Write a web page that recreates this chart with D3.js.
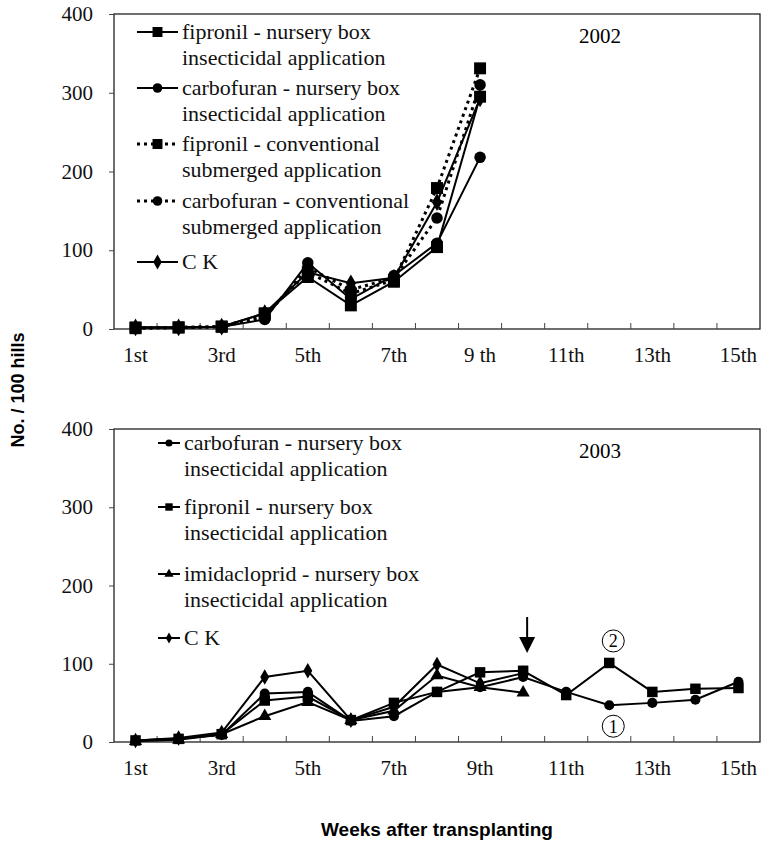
<!DOCTYPE html>
<html lang="en">
<head>
    <meta charset="UTF-8">
    <title>Weeks after transplanting</title>
    <script src="https://d3js.org/d3.v7.min.js"></script>
    <style>
        body { margin: 0; background: white; }
        text { font-family: "Liberation Serif", "Times New Roman", serif; }
    </style>
</head>
<body>
    <div id="chart"></div>

    <script>
        // categories (weeks after transplanting)
        const weeks = d3.range(1, 16);
        const weekLabels2002 = ["1st", "3rd", "5th", "7th", "9 th", "11th", "13th", "15th"];
        const weekLabels2003 = ["1st", "3rd", "5th", "7th", "9th", "11th", "13th", "15th"];
        const yTicks = [0, 100, 200, 300, 400];

        // 2002 series, weeks 1..9
        const fipNursery02 = [2, 2, 3, 20, 66, 30, 60, 104, 295];
        const carbNursery02 = [2, 2, 3, 12, 84, 38, 68, 109, 218];
        const fipConv02 = [1, 2, 3, 18, 72, 45, 62, 179, 331];
        const carbConv02 = [1, 2, 3, 15, 78, 50, 65, 141, 310];
        const ck02 = [2, 2, 3, 20, 72, 58, 65, 161, 293];

        // 2003 series
        const carbNursery03 = [2, 4, 9, 62, 64, 27, 33, 64, 70, 83, 64, 47, 50, 54, 77];
        const fipNursery03 = [2, 4, 10, 53, 58, 28, 50, 64, 89, 91, 60, 101, 64, 68, 69];
        const imidNursery03 = [1, 3, 10, 33, 51, 28, 40, 85, 70, 63];
        const ck03 = [2, 5, 12, 83, 91, 28, 45, 99, 75, 88];

        const W = 762, H = 847;
        const svg = d3.select("#chart").append("svg")
            .attr("width", W)
            .attr("height", H);

        const x = d3.scaleBand().domain(weeks).range([114, 760]).padding(0);
        const cx = w => x(w) + x.bandwidth() / 2;

        const panels = [
            {
                year: "2002", top: 14, bottom: 329, labels: weekLabels2002, msize: 1.3,
                legendX: 137, legendY: [32, 88, 144, 201, 262],
                series: [
                    { name: ["fipronil - nursery box", "insecticidal application"], values: fipNursery02, symbol: "square", dash: null },
                    { name: ["carbofuran - nursery box", "insecticidal application"], values: carbNursery02, symbol: "circle", dash: null },
                    { name: ["fipronil - conventional", "submerged application"], values: fipConv02, symbol: "square", dash: "3,4" },
                    { name: ["carbofuran - conventional", "submerged application"], values: carbConv02, symbol: "circle", dash: "3,4" },
                    { name: ["C K"], values: ck02, symbol: "diamond", dash: null }
                ]
            },
            {
                year: "2003", top: 429, bottom: 742, labels: weekLabels2003, msize: 1,
                legendX: 158, legendY: [443, 507, 574, 638],
                series: [
                    { name: ["carbofuran - nursery box", "insecticidal application"], values: carbNursery03, symbol: "circle", dash: null },
                    { name: ["fipronil - nursery box", "insecticidal application"], values: fipNursery03, symbol: "square", dash: null },
                    { name: ["imidacloprid - nursery box", "insecticidal application"], values: imidNursery03, symbol: "triangle", dash: null },
                    { name: ["C K"], values: ck03, symbol: "diamond", dash: null }
                ]
            }
        ];

        const symbolSize = { square: 110, circle: 80, diamond: 70, triangle: 75 };
        const symbolType = { square: d3.symbolSquare, circle: d3.symbolCircle, diamond: d3.symbolDiamond, triangle: d3.symbolTriangle };

        panels.forEach(p => {
            const y = d3.scaleLinear().domain([0, 400]).range([p.bottom, p.top]);
            p.y = y;
            const g = svg.append("g");

            // plot box
            g.append("rect")
                .attr("x", 114).attr("y", p.top)
                .attr("width", 760 - 114).attr("height", p.bottom - p.top)
                .attr("fill", "none").attr("stroke", "#222").attr("stroke-width", 1.3);

            // y axis
            const yAxis = g.append("g")
                .attr("transform", "translate(114,0)")
                .call(d3.axisLeft(y).tickValues(yTicks).tickSize(5).tickPadding(16).tickFormat(d3.format("d")));
            yAxis.select(".domain").remove();
            yAxis.selectAll("line").attr("stroke", "#444");
            yAxis.selectAll("text").attr("font-size", 21).attr("font-family", "Liberation Serif").attr("fill", "#111");

            // x ticks between categories, pointing inward
            g.selectAll(".xt").data(weeks.slice(1)).enter().append("line")
                .attr("x1", d => x(d)).attr("x2", d => x(d))
                .attr("y1", p.bottom).attr("y2", p.bottom - 6)
                .attr("stroke", "#444").attr("stroke-width", 1);

            // x labels every second week
            g.selectAll(".xl").data(p.labels).enter().append("text")
                .attr("x", (d, i) => cx(1 + i * 2))
                .attr("y", p.bottom + 33)
                .attr("text-anchor", "middle")
                .attr("font-size", 21)
                .attr("fill", "#111")
                .text(d => d);

            // year tag
            g.append("text")
                .attr("x", 600).attr("y", p.top + 29)
                .attr("text-anchor", "middle")
                .attr("font-size", 21)
                .text(p.year);

            const line = d3.line()
                .x((d, i) => cx(weeks[i]))
                .y(d => y(d));

            p.series.forEach(s => {
                g.append("path")
                    .attr("d", line(s.values))
                    .attr("fill", "none")
                    .attr("stroke", "black")
                    .attr("stroke-width", s.dash ? 3 : 2)
                    .attr("stroke-dasharray", s.dash);
            });

            p.series.forEach(s => {
                g.selectAll(null).data(s.values).enter().append("path")
                    .attr("transform", (d, i) => `translate(${cx(weeks[i])},${y(d)})`)
                    .attr("d", d3.symbol(symbolType[s.symbol], symbolSize[s.symbol] * p.msize))
                    .attr("fill", "black");
            });

            // legend
            p.series.forEach((s, i) => {
                const ly = p.legendY[i];
                const lx = p.legendX;
                const len = p.year === "2002" ? 41 : 22;
                g.append("line")
                    .attr("x1", lx).attr("x2", lx + len)
                    .attr("y1", ly).attr("y2", ly)
                    .attr("stroke", "black")
                    .attr("stroke-width", s.dash ? 3 : 2)
                    .attr("stroke-dasharray", s.dash);
                g.append("path")
                    .attr("transform", `translate(${lx + len / 2},${ly})`)
                    .attr("d", d3.symbol(symbolType[s.symbol], symbolSize[s.symbol] * (p.year === "2002" ? 0.9 : 0.5)))
                    .attr("fill", "black");
                s.name.forEach((t, k) => {
                    g.append("text")
                        .attr("x", lx + len + 4)
                        .attr("y", ly + 7 + k * 26)
                        .attr("font-size", 22)
                        .attr("fill", "#111")
                        .text(t);
                });
            });
        });

        // 2003 annotations: arrow at week 10 and circled numbers at week 12
        const p3 = panels[1];
        svg.append("line")
            .attr("x1", cx(10) + 4).attr("x2", cx(10) + 4)
            .attr("y1", 617).attr("y2", 640)
            .attr("stroke", "black").attr("stroke-width", 2);
        svg.append("path")
            .attr("d", `M${cx(10) + 4 - 8},637 L${cx(10) + 4 + 8},637 L${cx(10) + 4},653 Z`)
            .attr("fill", "black");

        [["2", p3.y(101) - 22], ["1", p3.y(47) + 21]].forEach(([t, yy]) => {
            svg.append("circle")
                .attr("cx", cx(12) + 4).attr("cy", yy).attr("r", 11)
                .attr("fill", "none").attr("stroke", "black").attr("stroke-width", 1);
            svg.append("text")
                .attr("x", cx(12) + 4).attr("y", yy + 6.5)
                .attr("text-anchor", "middle")
                .attr("font-size", 18)
                .text(t);
        });

        // axis titles
        svg.append("text")
            .attr("transform", "translate(24,390) rotate(-90)")
            .attr("text-anchor", "middle")
            .style("font-family", "'Liberation Sans', Arial, sans-serif")
            .attr("font-weight", "bold")
            .attr("font-size", 18)
            .text("No. / 100 hills");

        svg.append("text")
            .attr("x", 437).attr("y", 836)
            .attr("text-anchor", "middle")
            .style("font-family", "'Liberation Sans', Arial, sans-serif")
            .attr("font-weight", "bold")
            .attr("font-size", 19)
            .text("Weeks after transplanting");
    </script>
</body>
</html>
